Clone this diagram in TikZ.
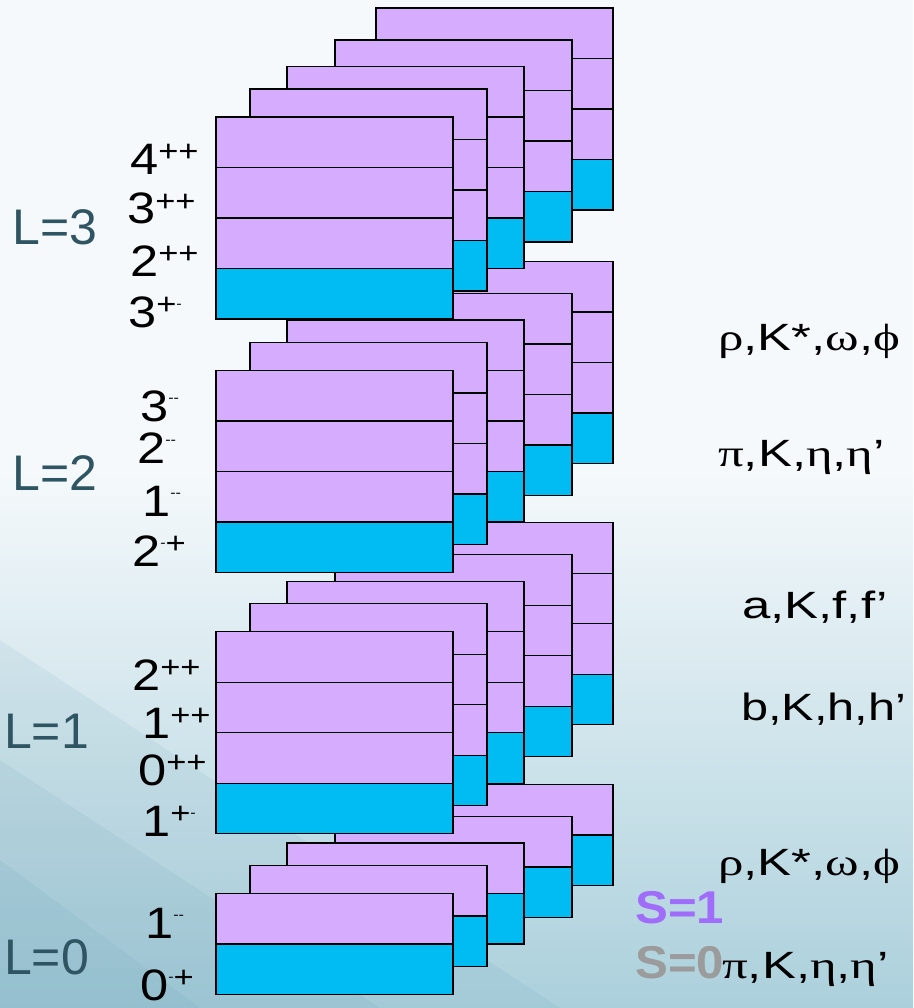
\documentclass[tikz,border=0pt]{standalone}
\usepackage{fontspec}
\setmainfont{Liberation Sans}
\newfontfamily\grk{Liberation Serif}
\definecolor{cp}{HTML}{D6ACFF}
\definecolor{cc}{HTML}{00BCF2}
\definecolor{lc}{HTML}{2F5563}
\definecolor{sone}{HTML}{A06CFA}
\definecolor{szero}{HTML}{9B9B9B}
\definecolor{bgt}{HTML}{F5F9FB}
\definecolor{bgb}{HTML}{ABD0DC}
\definecolor{bgd}{HTML}{5F98AE}
\newcommand\jplus{\raisebox{13pt}{\fontsize{30}{30}\selectfont +}}
\newcommand\jminus{\raisebox{19pt}{\fontsize{14}{14}\selectfont -}}
\newcommand\wide[2]{\scalebox{#1}[1]{#2}}
\newcommand\mcard[3]{%
  \filldraw[card,fill=cp] (#1,#2) rectangle ++(237,{50.5*#3});
  \filldraw[card,fill=cc] (#1,{#2+50.5*(#3-1)}) rectangle ++(237,50.5);
  \foreach \r in {1,...,#3}{\draw[card] (#1,{#2+50.5*\r}) -- ++(237,0);}
}
\newcommand\mgroup[2]{%
  \mcard{376}{#1-109}{#2}
  \mcard{335}{#1-77}{#2}
  \mcard{287}{#1-50.5}{#2}
  \mcard{250}{#1-28}{#2}
  \mcard{216}{#1}{#2}
}
\begin{document}
\begin{tikzpicture}[x=1pt,y=-1pt,
  card/.style={draw=black,line width=1.4pt},
  lvl/.style={anchor=base west,inner sep=0pt,text=lc,font=\fontsize{50}{50}\selectfont},
  jpc/.style={anchor=base west,inner sep=0pt,text=black,font=\fontsize{44}{44}\selectfont},
  mes/.style={anchor=base west,inner sep=0pt,text=black,font=\fontsize{38}{38}\selectfont},
  spin/.style={anchor=base west,inner sep=0pt,font=\fontsize{46}{46}\selectfont\bfseries}]
% background
\fill[bgt] (0,0) rectangle (913,1008);
\shade[top color=bgt,bottom color=bgb] (0,470) rectangle (913,1008);
\fill[bgd,opacity=0.10] (0,640) -- (0,1008) -- (560,1008) -- cycle;
\fill[bgd,opacity=0.10] (0,760) -- (0,1008) -- (380,1008) -- cycle;
\fill[bgd,opacity=0.10] (0,860) -- (0,1008) -- (200,1008) -- cycle;
\useasboundingbox (0,0) rectangle (913,1008);
% stacks
\mgroup{893.3}{2}
\mgroup{631.7}{4}
\mgroup{370.3}{4}
\mgroup{117}{4}
% L labels
\node[lvl] (L3) at (12,244) {L=3};
\node[lvl] (L2) at (12,490) {L=2};
\node[lvl] (L1) at (4,748) {L=1};
\node[lvl] (L0) at (4,974) {L=0};
% JPC labels
\node[jpc] (a1) at (130,175) {\wide{1.15}{4\jplus\jplus}};
\node[jpc] (a2) at (127,224) {\wide{1.15}{3\jplus\jplus}};
\node[jpc] (a3) at (130,276) {\wide{1.15}{2\jplus\jplus}};
\node[jpc] (a4) at (128,327) {\wide{1.15}{3\jplus\jminus}};
\node[jpc] (b1) at (140,421.7) {\wide{1.15}{3\jminus\jminus}};
\node[jpc] (b2) at (137,463) {\wide{1.15}{2\jminus\jminus}};
\node[jpc] (b3) at (142,516.7) {\wide{1.15}{1\jminus\jminus}};
\node[jpc] (b4) at (132,566.7) {\wide{1.15}{2\jminus\jplus}};
\node[jpc] (c1) at (132,690) {\wide{1.15}{2\jplus\jplus}};
\node[jpc] (c2) at (142,738) {\wide{1.15}{1\jplus\jplus}};
\node[jpc] (c3) at (138,785) {\wide{1.15}{0\jplus\jplus}};
\node[jpc] (c4) at (142,836.7) {\wide{1.15}{1\jplus\jminus}};
\node[jpc] (d1) at (145,938) {\wide{1.15}{1\jminus\jminus}};
\node[jpc] (d2) at (140,1000) {\wide{1.15}{0\jminus\jplus}};
% meson labels
\node[mes] (m1) at (718,350) {\wide{1.34}{{\grk ρ},K*,{\grk ω},{\grk ϕ}}};
\node[mes] (m2) at (718,466.7) {\wide{1.34}{{\grk π},K,{\grk η},{\grk η}’}};
\node[mes] (m3) at (742,618) {\wide{1.34}{a,K,f,f’}};
\node[mes] (m4) at (741,720) {\wide{1.28}{b,K,h,h’}};
\node[mes] (m5) at (718,875) {\wide{1.34}{{\grk ρ},K*,{\grk ω},{\grk ϕ}}};
\node[spin,text=sone] (s1) at (635,923) {\wide{1.07}{S=1}};
\node[spin,text=szero] (s0) at (635,978) {\wide{1.07}{S=0}};
\node[mes] (m6) at (722,978) {\wide{1.34}{{\grk π},K,{\grk η},{\grk η}’}};
\end{tikzpicture}
\end{document}
